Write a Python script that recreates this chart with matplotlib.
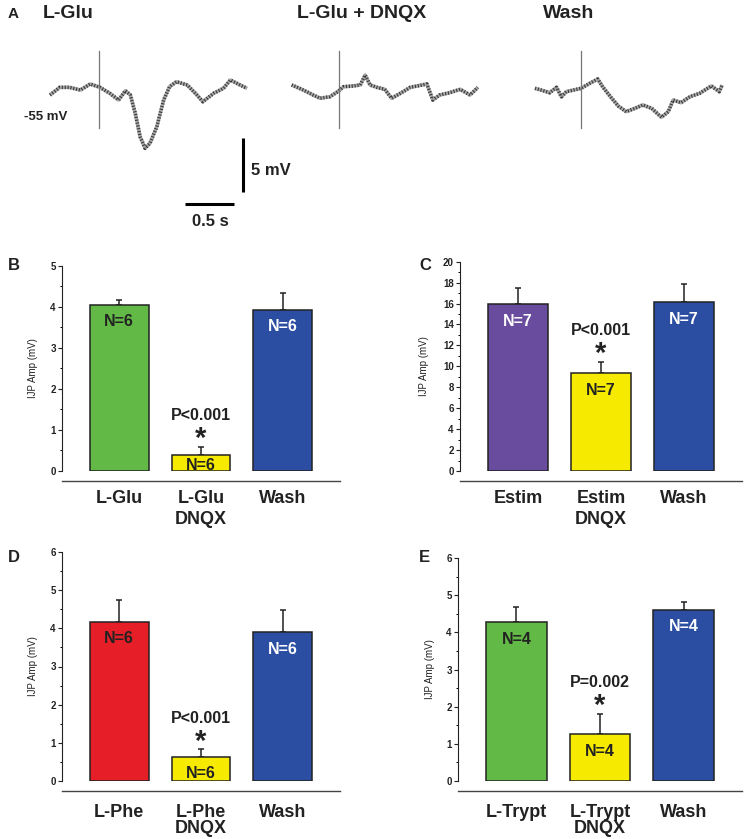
import matplotlib.pyplot as plt
from matplotlib.ticker import MultipleLocator

plt.rcParams['font.family'] = ['Liberation Sans', 'DejaVu Sans']
plt.rcParams['font.weight'] = 'bold'

W, H = 746, 839  # figure size in pixels

# ---- panel A: membrane potential traces (time in s, potential in mV) ----
glu_t = [0.00, 0.10, 0.20, 0.31, 0.41, 0.51, 0.61, 0.70, 0.77, 0.82, 0.87, 0.92, 0.97,
         1.02, 1.09, 1.16, 1.22, 1.29, 1.40, 1.50, 1.56, 1.67, 1.77, 1.84, 1.94, 2.01]
glu_v = [-55.65, -54.94, -54.94, -55.19, -54.63, -54.94, -55.49, -56.11, -55.25, -55.65,
         -57.34, -59.51, -60.58, -60.12, -58.58, -56.11, -54.88, -54.42, -54.72, -55.65,
         -56.27, -55.49, -55.03, -54.26, -54.72, -55.03]

dnqx_t = [0.00, 0.12, 0.22, 0.29, 0.39, 0.47, 0.53, 0.63, 0.70, 0.75, 0.80, 0.87, 0.95,
          1.02, 1.11, 1.21, 1.38, 1.44, 1.51, 1.61, 1.72, 1.82, 1.90]
dnqx_v = [-54.72, -55.19, -55.65, -55.95, -55.81, -55.34, -54.88, -54.81, -54.72, -53.80,
          -54.72, -54.94, -55.12, -55.95, -55.49, -54.94, -54.63, -56.11, -55.65, -55.44,
          -55.12, -55.65, -54.94]

wash_t = [0.00, 0.085, 0.15, 0.22, 0.27, 0.32, 0.47, 0.56, 0.64, 0.69, 0.77, 0.85, 0.93,
          1.02, 1.10, 1.19, 1.29, 1.36, 1.41, 1.49, 1.58, 1.68, 1.80, 1.88, 1.91]
wash_v = [-55.03, -55.25, -55.44, -54.94, -55.81, -55.34, -55.03, -54.56, -54.17, -54.88,
          -55.81, -56.67, -57.19, -56.88, -56.57, -56.88, -57.71, -57.19, -56.11, -56.36,
          -55.81, -55.49, -54.81, -55.34, -54.72]

trace_titles = ['L-Glu', 'L-Glu + DNQX', 'Wash']
stim_times = [0.50, 0.48, 0.47]

# ---- panels B-E: IJP amplitudes ----
b_labels = ['L-Glu', 'L-Glu\nDNQX', 'Wash']
b_vals = [4.05, 0.40, 3.93]
b_errs = [0.12, 0.19, 0.40]
b_n = ['N=6', 'N=6', 'N=6']

c_labels = ['Estim', 'Estim\nDNQX', 'Wash']
c_vals = [15.95, 9.33, 16.14]
c_errs = [1.55, 1.10, 1.70]
c_n = ['N=7', 'N=7', 'N=7']

d_labels = ['L-Phe', 'L-Phe\nDNQX', 'Wash']
d_vals = [4.18, 0.63, 3.90]
d_errs = [0.58, 0.19, 0.58]
d_n = ['N=6', 'N=6', 'N=6']

e_labels = ['L-Trypt', 'L-Trypt\nDNQX', 'Wash']
e_vals = [4.27, 1.25, 4.61]
e_errs = [0.41, 0.56, 0.21]
e_n = ['N=4', 'N=4', 'N=4']

GREEN, YELLOW, BLUE, PURPLE, RED = '#63b946', '#f6ea00', '#2c4ea2', '#6a4c9e', '#e51e27'
DARK, WHITE = '#222222', '#ffffff'


def box(l, t, r, b):
    return [l / W, 1 - b / H, (r - l) / W, (b - t) / H]


fig = plt.figure(figsize=(W / 100, H / 100), dpi=100)

# ---------------- panel A ----------------
axA = fig.add_axes(box(0, 0, 746, 235))
px_s, px_mv = 98.0, 10.8          # pixels per second / per mV
axA.set_xlim(-50 / px_s, 696 / px_s)
axA.set_ylim(-55 - 147 / px_mv, -55 + 88 / px_mv)
axA.axis('off')

offsets = [0.0, 2.466, 4.949]
for (t, v), off, st in zip([(glu_t, glu_v), (dnqx_t, dnqx_v), (wash_t, wash_v)],
                           offsets, stim_times):
    tt = [x + off for x in t]
    axA.plot(tt, v, color='#a8a8a8', lw=2.6, solid_capstyle='butt', zorder=2)
    axA.plot(tt, v, color='#3a3a3a', lw=2.6, dashes=(0.3, 0.5), zorder=3)
    axA.plot([st + off, st + off], [-51.6, -58.7], color='#777777', lw=0.9, zorder=4)

# scale bars
axA.plot([1.966, 1.966], [-59.6, -64.6], color='black', lw=2.2, solid_capstyle='butt')
axA.plot([1.378, 1.878], [-65.74, -65.74], color='black', lw=2.2, solid_capstyle='butt')
axA.text(2.05, -62.6, '5 mV', fontsize=12, ha='left', va='center', color=DARK)
axA.text(1.64, -67.4, '0.5 s', fontsize=12, ha='center', va='center', color=DARK)
axA.text(0.18, -57.7, '-55 mV', fontsize=9.5, ha='right', va='center', color=DARK)

fig.text(8 / W, 1 - 14 / H, 'A', fontsize=11, ha='left', va='center', color=DARK)
for x0, title in zip([43, 297, 543], trace_titles):
    fig.text(x0 / W, 1 - 14 / H, title, fontsize=14, ha='left', va='center', color=DARK)


# ---------------- bar panels ----------------
def bar_panel(rect, letter, letter_xy, labels, vals, errs, nlab, colors, ncolors,
              ymax, major, minor, ptext, ylab_x, lspace, lab_off):
    l, t, r, b = rect
    ax = fig.add_axes(box(l, t, r, b))
    ah = b - t
    x = list(range(len(vals)))
    ax.bar(x, vals, width=0.72, color=colors, edgecolor=DARK, linewidth=1.1, zorder=3)
    ax.errorbar(x, vals, yerr=[[0] * len(errs), errs], fmt='none', ecolor=DARK,
                elinewidth=1.1, capsize=2.3, capthick=1.1, zorder=2)
    ax.set_xlim(-0.7, 2.7)
    ax.set_ylim(0, ymax)
    ax.yaxis.set_major_locator(MultipleLocator(major))
    ax.yaxis.set_minor_locator(MultipleLocator(minor))
    ax.set_xticks([])
    ax.tick_params(axis='y', which='major', direction='out', length=3, width=0.8,
                   labelsize=7, pad=1.5, colors=DARK)
    ax.tick_params(axis='y', which='minor', direction='out', length=1.6, width=0.7)
    for s in ['top', 'right']:
        ax.spines[s].set_visible(False)
    ax.spines['left'].set_bounds(0, ymax)
    ax.spines['left'].set_linewidth(0.8)
    ax.spines['left'].set_color(DARK)
    ax.spines['bottom'].set_position(('outward', 7.5))
    ax.spines['bottom'].set_linewidth(1.0)
    ax.spines['bottom'].set_color('#444444')
    ax.set_ylabel('IJP Amp (mV)', fontsize=7, color=DARK)
    ax.yaxis.set_label_coords(ylab_x, 0.5)
    ax.patch.set_alpha(0)

    # category labels under the baseline
    for i, lab in enumerate(labels):
        ax.annotate(lab, xy=(i, 0), xycoords=('data', 'axes fraction'),
                    xytext=(0, -lab_off), textcoords='offset points',
                    ha='center', va='top', fontsize=13, color=DARK,
                    linespacing=lspace, annotation_clip=False)

    for i, (v, n, c) in enumerate(zip(vals, nlab, ncolors)):
        h_px = v / ymax * ah
        y_px = h_px - 17 if h_px - 17 >= 5 else 5
        ax.text(i, y_px / ah * ymax, n, fontsize=11.5, ha='center', va='center',
                color=c, zorder=5)

    top = vals[1] + errs[1]
    ax.annotate('*', xy=(1, top), xytext=(0, 0), textcoords='offset points',
                ha='center', va='baseline', fontsize=21, color=DARK)
    ax.annotate(ptext, xy=(1, top), xytext=(0, 22.5), textcoords='offset points',
                ha='center', va='center', fontsize=11.5, color=DARK)

    fig.text(letter_xy[0] / W, 1 - letter_xy[1] / H, letter, fontsize=12,
             ha='left', va='center', color=DARK)
    return ax


bar_panel((62, 265.7, 340, 471), 'B', (8, 265), b_labels, b_vals, b_errs, b_n,
          [GREEN, YELLOW, BLUE], [DARK, DARK, WHITE], 5, 1, 0.5, 'P<0.001', -0.085, 1.3, 13.5)
bar_panel((460, 261.7, 742, 471), 'C', (419, 265), c_labels, c_vals, c_errs, c_n,
          [PURPLE, YELLOW, BLUE], [WHITE, DARK, WHITE], 20, 2, 1, 'P<0.001', -0.11, 1.3, 13.5)
bar_panel((62, 552.3, 340, 780.7), 'D', (8, 557), d_labels, d_vals, d_errs, d_n,
          [RED, YELLOW, BLUE], [DARK, DARK, WHITE], 6, 1, 0.5, 'P<0.001', -0.085, 0.92, 17)
bar_panel((458, 558.3, 742, 780.7), 'E', (419, 558), e_labels, e_vals, e_errs, e_n,
          [GREEN, YELLOW, BLUE], [DARK, DARK, WHITE], 6, 1, 0.5, 'P=0.002', -0.08, 0.92, 17)

fig.savefig('out.png', dpi=100)
